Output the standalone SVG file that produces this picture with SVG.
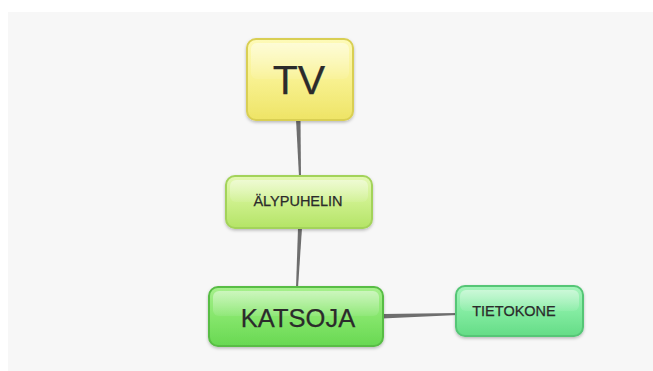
<svg xmlns="http://www.w3.org/2000/svg" width="653" height="371" viewBox="0 0 653 371">
  <defs>
    <linearGradient id="gTv" x1="0" y1="0" x2="0" y2="1">
      <stop offset="0" stop-color="#fdfab8"/>
      <stop offset="0.5" stop-color="#f8f190"/>
      <stop offset="1" stop-color="#eee466"/>
    </linearGradient>
    <linearGradient id="gPhone" x1="0" y1="0" x2="0" y2="1">
      <stop offset="0" stop-color="#e4f9b4"/>
      <stop offset="0.5" stop-color="#cdf08c"/>
      <stop offset="1" stop-color="#b4e466"/>
    </linearGradient>
    <linearGradient id="gViewer" x1="0" y1="0" x2="0" y2="1">
      <stop offset="0" stop-color="#a6f08c"/>
      <stop offset="0.5" stop-color="#86e66c"/>
      <stop offset="1" stop-color="#68d852"/>
    </linearGradient>
    <linearGradient id="gPc" x1="0" y1="0" x2="0" y2="1">
      <stop offset="0" stop-color="#a6f4bc"/>
      <stop offset="0.5" stop-color="#84eca2"/>
      <stop offset="1" stop-color="#64dc86"/>
    </linearGradient>
    <linearGradient id="gloss" x1="0" y1="0" x2="0" y2="1">
      <stop offset="0" stop-color="#ffffff" stop-opacity="0.45"/>
      <stop offset="1" stop-color="#ffffff" stop-opacity="0.08"/>
    </linearGradient>
    <filter id="shadow" x="-10%" y="-10%" width="120%" height="130%">
      <feDropShadow dx="0" dy="1.5" stdDeviation="1.5" flood-color="#000" flood-opacity="0.25"/>
    </filter>
  </defs>
  <style>
    .node rect.body { stroke-width: 2; filter: url(#shadow); }
    .node rect.gloss { fill: url(#gloss); }
    .node text { font-family: "Liberation Sans", Arial, sans-serif; fill: #2b2b2b; text-anchor: middle; dominant-baseline: central; stroke: #2b2b2b; stroke-width: 0.25; }
    .link { fill: #6e6e6e; }
  </style>

  <!-- canvas -->
  <rect x="0" y="0" width="653" height="371" fill="#ffffff"/>
  <rect x="8" y="12" width="645" height="359" fill="#f7f7f7"/>

  <!-- tapered connectors -->
  <g id="connectors">
    <polygon class="link" points="296,119 300.5,119 301,177 299,177"/>
    <polygon class="link" points="298,228 302,228 298,288 296,288"/>
    <polygon class="link" points="382,314 382,318.5 458,315 458,313"/>
  </g>

  <g id="node-tv" class="node">
    <rect class="body" x="247" y="39" width="106" height="81" rx="9" fill="url(#gTv)" stroke="#d9cf52"/>
    <rect class="gloss" x="251" y="43" width="98" height="36" rx="6"/>
    <text x="299" y="80" font-size="41">TV</text>
  </g>

  <g id="node-alypuhelin" class="node">
    <rect class="body" x="226" y="176" width="146" height="52" rx="9" fill="url(#gPhone)" stroke="#a3d35a"/>
    <rect class="gloss" x="230" y="180" width="138" height="22" rx="6"/>
    <text x="298" y="201" font-size="14.5">ÄLYPUHELIN</text>
  </g>

  <g id="node-katsoja" class="node">
    <rect class="body" x="209" y="287" width="174" height="59" rx="9" fill="url(#gViewer)" stroke="#58bd45"/>
    <rect class="gloss" x="213" y="291" width="166" height="25" rx="6"/>
    <text x="298" y="318" font-size="25.5">KATSOJA</text>
  </g>

  <g id="node-tietokone" class="node">
    <rect class="body" x="456" y="286" width="127" height="50" rx="9" fill="url(#gPc)" stroke="#55c676"/>
    <rect class="gloss" x="460" y="290" width="119" height="21" rx="6"/>
    <text x="514" y="311" font-size="14.5">TIETOKONE</text>
  </g>
</svg>
